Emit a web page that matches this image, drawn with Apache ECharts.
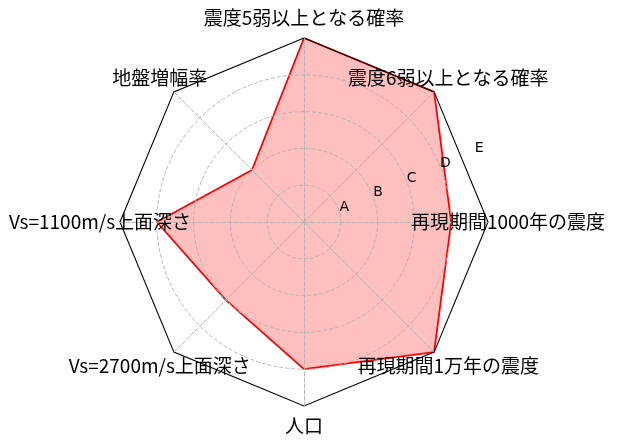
<!DOCTYPE html>
<html>
<head>
<meta charset="utf-8">
<script src="https://cdn.jsdelivr.net/npm/echarts@6/dist/echarts.min.js"></script>
<style>
  html, body { margin: 0; padding: 0; background: #fff; }
  #chart { width: 618px; height: 446px; }
</style>
</head>
<body>
<div id="chart"></div>
<script>
// axes, clockwise from the top
const categories = [
  "震度5弱以上となる確率",
  "震度6弱以上となる確率",
  "再現期間1000年の震度",
  "再現期間1万年の震度",
  "人口",
  "Vs=2700m/s上面深さ",
  "Vs=1100m/s上面深さ",
  "地盤増幅率",
];
const values = [5, 5, 4, 5, 4, 3, 4, 2];
const rankLabels = ["", "A", "B", "C", "D", "E"];
const maxValue = 5;

(function () {
  const chart = echarts.init(document.getElementById("chart"));

  // echarts lays indicators counter-clockwise, so flip the order after the first one
  const order = [0].concat(categories.map((_, i) => i).slice(1).reverse());
  const indicators = order.map((i) => ({ name: categories[i], min: 0, max: maxValue }));
  const seriesValues = order.map((i) => values[i]);

  const center = [304, 222];
  const radius = 184;
  const gridColor = "#b0b0b0";

  const option = {
    animation: false,
    radar: [
      // octagon frame + spokes + axis names
      {
        center: center,
        radius: radius,
        startAngle: 90,
        shape: "polygon",
        splitNumber: 1,
        indicator: indicators,
        z: 3,
        nameGap: 20,
        axisName: {
          color: "#000",
          fontSize: 19,
          fontFamily: "Noto Sans CJK JP",
          align: "center",
          verticalAlign: "middle",
        },
        axisLine: { lineStyle: { color: gridColor, type: [4, 2], width: 0.9 } },
        splitLine: { lineStyle: { color: "#000", width: 1.1 } },
        splitArea: { show: false },
        axisTick: { show: false },
        axisLabel: { show: false },
      },
      // dashed circles 1..4
      {
        center: center,
        radius: (radius * (maxValue - 1)) / maxValue,
        startAngle: 90,
        shape: "circle",
        splitNumber: maxValue - 1,
        indicator: indicators.map(() => ({ name: "", min: 0, max: maxValue - 1 })),
        z: 3,
        axisName: { show: false },
        axisLine: { show: false },
        splitLine: { lineStyle: { color: gridColor, type: [4, 2], width: 0.9 } },
        splitArea: { show: false },
        axisTick: { show: false },
        axisLabel: { show: false },
      },
      // A..E rank labels
      {
        center: center,
        radius: radius,
        startAngle: 23.5,
        shape: "circle",
        splitNumber: maxValue,
        indicator: [{ name: "", min: 0, max: maxValue }],
        z: 3,
        axisName: { show: false },
        axisLine: { show: false },
        splitLine: { show: false },
        splitArea: { show: false },
        axisTick: { show: false },
        axisLabel: {
          show: true,
          margin: 0,
          align: "center",
          verticalAlign: "middle",
          padding: [0, 0, 6, 13],
          color: "#000",
          fontSize: 14,
          fontFamily: "DejaVu Sans",
          formatter: (v) => rankLabels[Math.round(v)] || "",
        },
      },
    ],
    series: [
      {
        type: "radar",
        radarIndex: 0,
        symbol: "none",
        lineStyle: { color: "red", width: 1.8 },
        areaStyle: { color: "#ff0000", opacity: 0.25 },
        data: [{ value: seriesValues }],
      },
    ],
  };

  chart.setOption(option);
})();
</script>
</body>
</html>
